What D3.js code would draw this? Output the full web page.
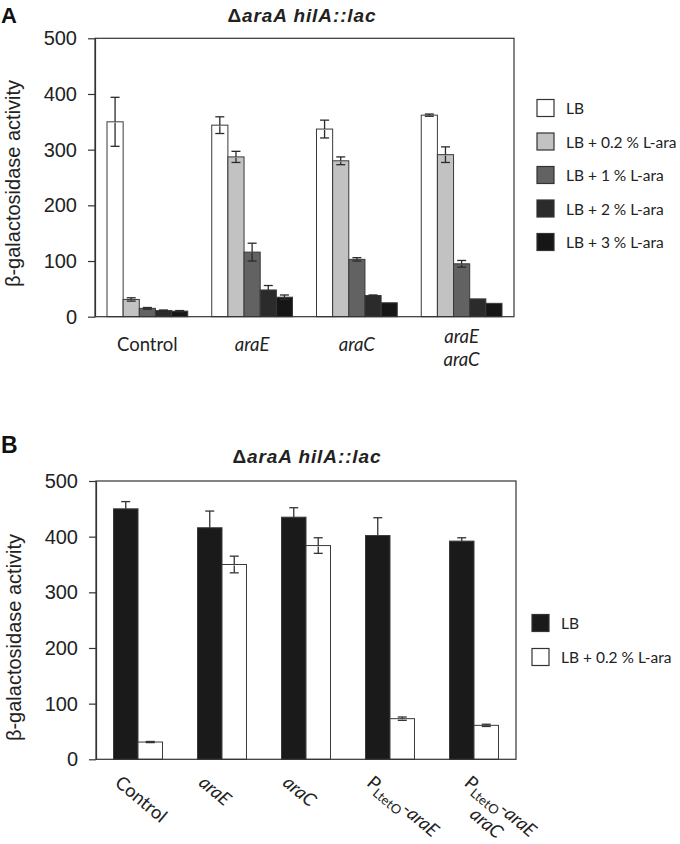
<!DOCTYPE html>
<html><head><meta charset="utf-8">
<script src="https://cdn.jsdelivr.net/npm/d3@7"></script>
<style>body{margin:0;background:#fff} svg{display:block}</style>
</head><body><svg id="chart" width="680" height="844"></svg>
<script>
// ---------- DATA ----------
const yTicks = [0, 100, 200, 300, 400, 500];
const yLabel = "β-galactosidase activity";

// Panel A
const categoriesA = ["Control", "<i>araE</i>", "<i>araC</i>", "<i>araE</i>|<i>araC</i>"];
const seriesA = ["LB", "LB + 0.2 % L-ara", "LB + 1 % L-ara", "LB + 2 % L-ara", "LB + 3 % L-ara"];
const valuesA_LB    = [350, 344, 337, 362];
const valuesA_ara02 = [31, 287, 280, 291];
const valuesA_ara1  = [15, 116, 103, 95];
const valuesA_ara2  = [11, 48, 38, 32];
const valuesA_ara3  = [10, 35, 25, 24];
const errorsA_LB    = [44, 15, 16, 2];
const errorsA_ara02 = [3, 10, 7, 14];
const errorsA_ara1  = [1.5, 16, 3, 6];
const errorsA_ara2  = [1, 8, 1, 0];
const errorsA_ara3  = [1, 4, 0, 0];

// Panel B
const categoriesB = ["Control", "<i>araE</i>", "<i>araC</i>", "P<sub>LtetO</sub>-<i>araE</i>", "P<sub>LtetO</sub>-<i>araE</i>|<i>araC</i>"];
const seriesB = ["LB", "LB + 0.2 % L-ara"];
const valuesB_LB    = [450, 416, 435, 402, 392];
const valuesB_ara02 = [31, 350, 384, 73, 61];
const errorsB_LB    = [13, 30, 17, 32, 6];
const errorsB_ara02 = [1, 15, 14, 3, 2];

// ---------- STYLE ----------
const colorsA = ["#ffffff", "#c2c2c2", "#626262", "#2b2b2b", "#161616"];
const colorsB = ["#1a1a1a", "#ffffff"];
const ARIAL = "'Liberation Sans', Arial, sans-serif";
const CAL = "Lato, 'Open Sans', sans-serif";
const INK = "#222";

const svg = d3.select("#chart");

function addRich(textSel, markup, subSize) {
  const parts = markup.split(/(<i>.*?<\/i>|<sub>.*?<\/sub>)/).filter(s => s.length);
  let inSub = false;
  parts.forEach(p => {
    let m;
    if ((m = p.match(/^<i>(.*)<\/i>$/))) {
      const t = textSel.append("tspan").attr("font-style", "italic").text(m[1]);
      if (inSub) { t.attr("dy", "-0.3em"); inSub = false; }
    } else if ((m = p.match(/^<sub>(.*)<\/sub>$/))) {
      textSel.append("tspan").attr("font-size", subSize).attr("dy", "0.3em").text(m[1]);
      inSub = true;
    } else {
      const t = textSel.append("tspan").text(p);
      if (inSub) { t.attr("dy", "-0.3em"); inSub = false; }
    }
  });
}

function drawPanel(cfg) {
  const g = svg.append("g");
  const y = d3.scaleLinear().domain([0, 500]).range([cfg.bottom, cfg.top]);
  const x0 = d3.scaleBand().domain(cfg.categories).range([cfg.left, cfg.right])
    .paddingInner(cfg.padIn).paddingOuter(cfg.padIn / 2);
  const x1 = d3.scaleBand().domain(cfg.series).range([0, x0.bandwidth()]);
  const color = d3.scaleOrdinal().domain(cfg.series).range(cfg.colors);

  // bars
  const rows = [];
  cfg.series.forEach((s, si) => cfg.categories.forEach((c, ci) => {
    rows.push({ s, si, c, v: cfg.values[si][ci], e: cfg.errors[si][ci] });
  }));
  g.append("g").selectAll("rect").data(rows).join("rect")
    .attr("x", d => x0(d.c) + x1(d.s))
    .attr("y", d => y(d.v))
    .attr("width", x1.bandwidth())
    .attr("height", d => y(0) - y(d.v))
    .attr("fill", d => color(d.s))
    .attr("stroke", "#3a3a3a").attr("stroke-width", 1);

  // error bars
  const eb = g.append("g").attr("stroke-width", 1.3).attr("fill", "none");
  rows.filter(d => d.e > 0).forEach(d => {
    const cx = x0(d.c) + x1(d.s) + x1.bandwidth() / 2;
    const yv = y(d.v), y1 = y(d.v + d.e), y2 = y(d.v - d.e), w = cfg.cap / 2;
    const up = cfg.errColor;
    const low = cfg.hideLower && cfg.hideLower(d.si) ? color(d.s) : cfg.errColor;
    eb.append("line").attr("stroke", up).attr("x1", cx).attr("x2", cx).attr("y1", y1).attr("y2", yv);
    eb.append("line").attr("stroke", up).attr("x1", cx - w).attr("x2", cx + w).attr("y1", y1).attr("y2", y1);
    eb.append("line").attr("stroke", low).attr("x1", cx).attr("x2", cx).attr("y1", yv + 1).attr("y2", y2);
    eb.append("line").attr("stroke", low).attr("x1", cx - w).attr("x2", cx + w).attr("y1", y2).attr("y2", y2);
  });

  // frame
  g.append("rect").attr("x", cfg.left).attr("y", cfg.top)
    .attr("width", cfg.right - cfg.left).attr("height", cfg.bottom - cfg.top)
    .attr("fill", "none").attr("stroke", "#333").attr("stroke-width", 1.2);

  // y axis
  const ax = g.append("g").attr("transform", `translate(${cfg.left},0)`)
    .call(d3.axisLeft(y).tickValues(yTicks).tickSize(7).tickSizeOuter(0).tickPadding(11));
  ax.select(".domain").attr("stroke", "#333").attr("stroke-width", 1.2);
  ax.selectAll(".tick line").attr("stroke", "#333").attr("stroke-width", 1.2);
  ax.selectAll(".tick text").attr("font-family", ARIAL).attr("font-size", 20).attr("fill", INK);

  // y label
  g.append("text").attr("transform", `translate(${cfg.yLabelX},${cfg.yLabelY}) rotate(-90)`)
    .attr("text-anchor", "middle").attr("font-family", ARIAL).attr("font-size", 20)
    .attr("fill", INK).text(yLabel);

  // title
  const t = g.append("text").attr("x", cfg.titleX).attr("y", cfg.titleY)
    .attr("text-anchor", "middle").attr("font-family", ARIAL).attr("font-size", 19)
    .attr("font-weight", "bold").attr("letter-spacing", 0.9).attr("fill", INK);
  t.append("tspan").text("Δ");
  t.append("tspan").attr("font-style", "italic").text("araA hilA::lac");

  // panel letter
  g.append("text").attr("x", 1).attr("y", cfg.letterY).attr("font-family", ARIAL)
    .attr("font-size", cfg.letterSize).attr("font-weight", "bold").attr("fill", "#111").text(cfg.letter);

  // legend
  const lg = g.append("g");
  cfg.series.forEach((s, i) => {
    const cy = cfg.legendY + i * cfg.legendStep;
    lg.append("rect").attr("x", cfg.legendX).attr("y", cy - 8.5).attr("width", 17).attr("height", 17)
      .attr("fill", color(s)).attr("stroke", "#333").attr("stroke-width", 1.2);
    lg.append("text").attr("x", cfg.legendX + 29).attr("y", cy + 6)
      .attr("font-family", CAL).attr("font-size", 15.5).attr("fill", INK).text(s);
  });

  // category labels
  const lab = g.append("g").attr("font-family", CAL).attr("font-size", 18.5).attr("fill", INK);
  cfg.categories.forEach(c => {
    const lines = c.split("|");
    const cx = x0(c) + x0.bandwidth() / 2;
    if (!cfg.rotate) {
      lines.forEach((ln, i) => {
        const tx = lab.append("text").attr("x", cx).attr("y", cfg.catY - (lines.length - 1) * 8 + i * 23)
          .attr("text-anchor", "middle");
        addRich(tx, ln, 12);
      });
    } else {
      const ang = cfg.rotate * Math.PI / 180, L = 21;
      const H = lines.length * L;
      const gx = lab.append("g");
      const texts = lines.map((ln, i) => {
        const tx = gx.append("text").attr("y", i * L + 15).attr("text-anchor", "middle");
        addRich(tx, ln, 13);
        return tx;
      });
      const W = d3.max(texts, tx => tx.node().getComputedTextLength());
      texts.forEach(tx => tx.attr("x", W / 2));
      const tlx = cx - 28 + H * Math.sin(ang);
      gx.attr("transform", `translate(${tlx},${cfg.catY}) rotate(${cfg.rotate})`);
    }
  });
}

drawPanel({
  letter: "A", letterY: 23, letterSize: 22,
  left: 95, right: 514, top: 38.3, bottom: 316.7, padIn: 0.229,
  categories: categoriesA, series: seriesA, colors: colorsA,
  values: [valuesA_LB, valuesA_ara02, valuesA_ara1, valuesA_ara2, valuesA_ara3],
  errors: [errorsA_LB, errorsA_ara02, errorsA_ara1, errorsA_ara2, errorsA_ara3],
  errColor: "#2a2a2a", cap: 9,
  titleX: 302, titleY: 21.5, yLabelX: 19.5, yLabelY: 183.5,
  legendX: 537, legendY: 108, legendStep: 33.5,
  catY: 351, rotate: 0
});

drawPanel({
  letter: "B", letterY: 453, letterSize: 23,
  left: 96, right: 516, top: 481, bottom: 759.3, padIn: 0.417,
  categories: categoriesB, series: seriesB, colors: colorsB,
  values: [valuesB_LB, valuesB_ara02],
  errors: [errorsB_LB, errorsB_ara02],
  errColor: "#333", cap: 9, hideLower: si => si === 0,
  titleX: 307, titleY: 463, yLabelX: 21, yLabelY: 637.5,
  legendX: 532, legendY: 623, legendStep: 34,
  catY: 773, rotate: 40
});
</script>
</body></html>
